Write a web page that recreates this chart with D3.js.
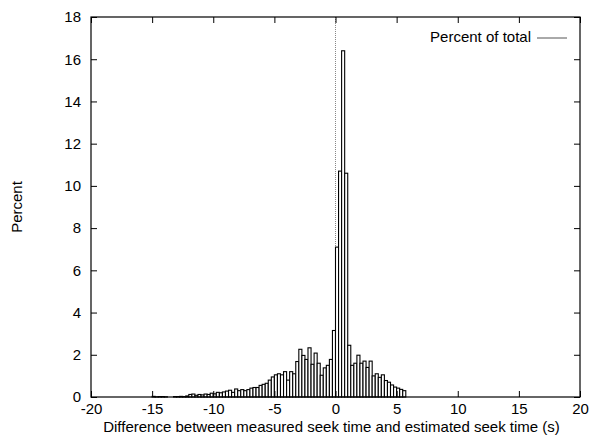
<!DOCTYPE html>
<html>
<head>
<meta charset="utf-8">
<script src="https://cdn.jsdelivr.net/npm/d3@7"></script>
<style>
  body { margin: 0; background: #fff; }
  text { font-family: "Liberation Sans", Arial, sans-serif; font-size: 15px; fill: #000; }
</style>
</head>
<body>
<svg id="chart" width="591" height="437"></svg>
<script>
// histogram of seek time error, bins of 0.25 s starting at -15
var binStart = -15, binWidth = 0.25
var percent = [
  0.03, 0.01, 0.02, 0.02, 0.01, 0, 0, 0.02, 0.02,
  0.03, 0.02, 0.05, 0.12, 0.14, 0.08, 0.12, 0.1, 0.14, 0.12, 0.18, 0.15,
  0.22, 0.2, 0.24, 0.28, 0.32, 0.22, 0.38, 0.3, 0.35, 0.3, 0.35, 0.42,
  0.45, 0.45, 0.55, 0.6, 0.65, 0.8, 0.95, 1.05, 1.1, 1.05, 1.2, 0.8,
  1.2, 1.1, 1.68, 2.26, 1.97, 1.78, 2.33, 1.55, 2.08, 1.6, 1.03, 1.38,
  1.5, 1.78, 3.15,
  7.1, 10.7, 16.4, 10.6,
  2.45, 1.5, 1.6, 1.98, 1.6, 1.7, 1.4, 1.7, 1.0, 1.1, 0.93, 1.05,
  0.78, 0.7, 0.57, 0.47, 0.42, 0.36, 0.3
]
var xTicks = [-20, -15, -10, -5, 0, 5, 10, 15, 20]
var yTicks = [0, 2, 4, 6, 8, 10, 12, 14, 16, 18]
var seriesName = "Percent of total"
var xTitle = "Difference between measured seek time and estimated seek time (s)"
var yTitle = "Percent"

var bins = percent.map((v, i) => ({ x0: binStart + i * binWidth, x1: binStart + (i + 1) * binWidth, v: v }))

var margin = { left: 91, right: 11, top: 17, bottom: 40 },
	width = 591 - margin.left - margin.right,
	height = 437 - margin.top - margin.bottom

var svg = d3.select("#chart")
var g = svg.append("g").attr("transform", "translate(" + margin.left + "," + margin.top + ")")

var x = d3.scaleLinear().domain([-20, 20]).range([0, width])
var y = d3.scaleLinear().domain([0, 18]).range([height, 0])

// zero axis, dotted
g.append("line")
	.attr("x1", x(0)).attr("x2", x(0))
	.attr("y1", 0).attr("y2", height)
	.attr("stroke", "#888")
	.attr("stroke-dasharray", "1,1")

g.selectAll(".bar").data(bins).enter().append("rect")
	.attr("class", "bar")
	.attr("x", d => x(d.x0))
	.attr("width", d => x(d.x1) - x(d.x0))
	.attr("y", d => y(d.v))
	.attr("height", d => y(0) - y(d.v))
	.attr("fill", "#fff")
	.attr("stroke", "#000")
	.attr("stroke-width", 1.1)

// axes, ticks inward and mirrored like gnuplot
var tick = 6, plain = d => String(d)
g.append("g").attr("transform", "translate(0," + height + ")")
	.call(d3.axisBottom(x).tickValues(xTicks).tickSize(-tick).tickPadding(6).tickFormat(plain))
g.append("g")
	.call(d3.axisTop(x).tickValues(xTicks).tickSize(-tick).tickFormat(""))
g.append("g")
	.call(d3.axisLeft(y).tickValues(yTicks).tickSize(-tick).tickPadding(tick + 4).tickFormat(plain))
g.append("g").attr("transform", "translate(" + width + ",0)")
	.call(d3.axisRight(y).tickValues(yTicks).tickSize(-tick).tickFormat(""))

g.selectAll(".domain").remove()
g.selectAll(".tick line").attr("stroke", "#000")
g.selectAll(".tick text").style("font-size", "15px").attr("fill", "#000")

g.append("rect")
	.attr("width", width).attr("height", height)
	.attr("fill", "none").attr("stroke", "#000").attr("stroke-width", 1.2)

// key
g.append("text")
	.attr("x", 440).attr("y", 21)
	.attr("text-anchor", "end").attr("dominant-baseline", "middle")
	.text(seriesName)
g.append("line")
	.attr("x1", 446).attr("x2", 476)
	.attr("y1", 21).attr("y2", 21)
	.attr("stroke", "#555").attr("stroke-width", 1)

svg.append("text")
	.attr("x", margin.left + width / 2 - 4).attr("y", 428)
	.attr("text-anchor", "middle").attr("dominant-baseline", "middle")
	.text(xTitle)
svg.append("text")
	.attr("transform", "translate(18," + (margin.top + height / 2) + ") rotate(-90)")
	.attr("text-anchor", "middle").attr("dominant-baseline", "middle")
	.text(yTitle)
</script>
</body>
</html>
